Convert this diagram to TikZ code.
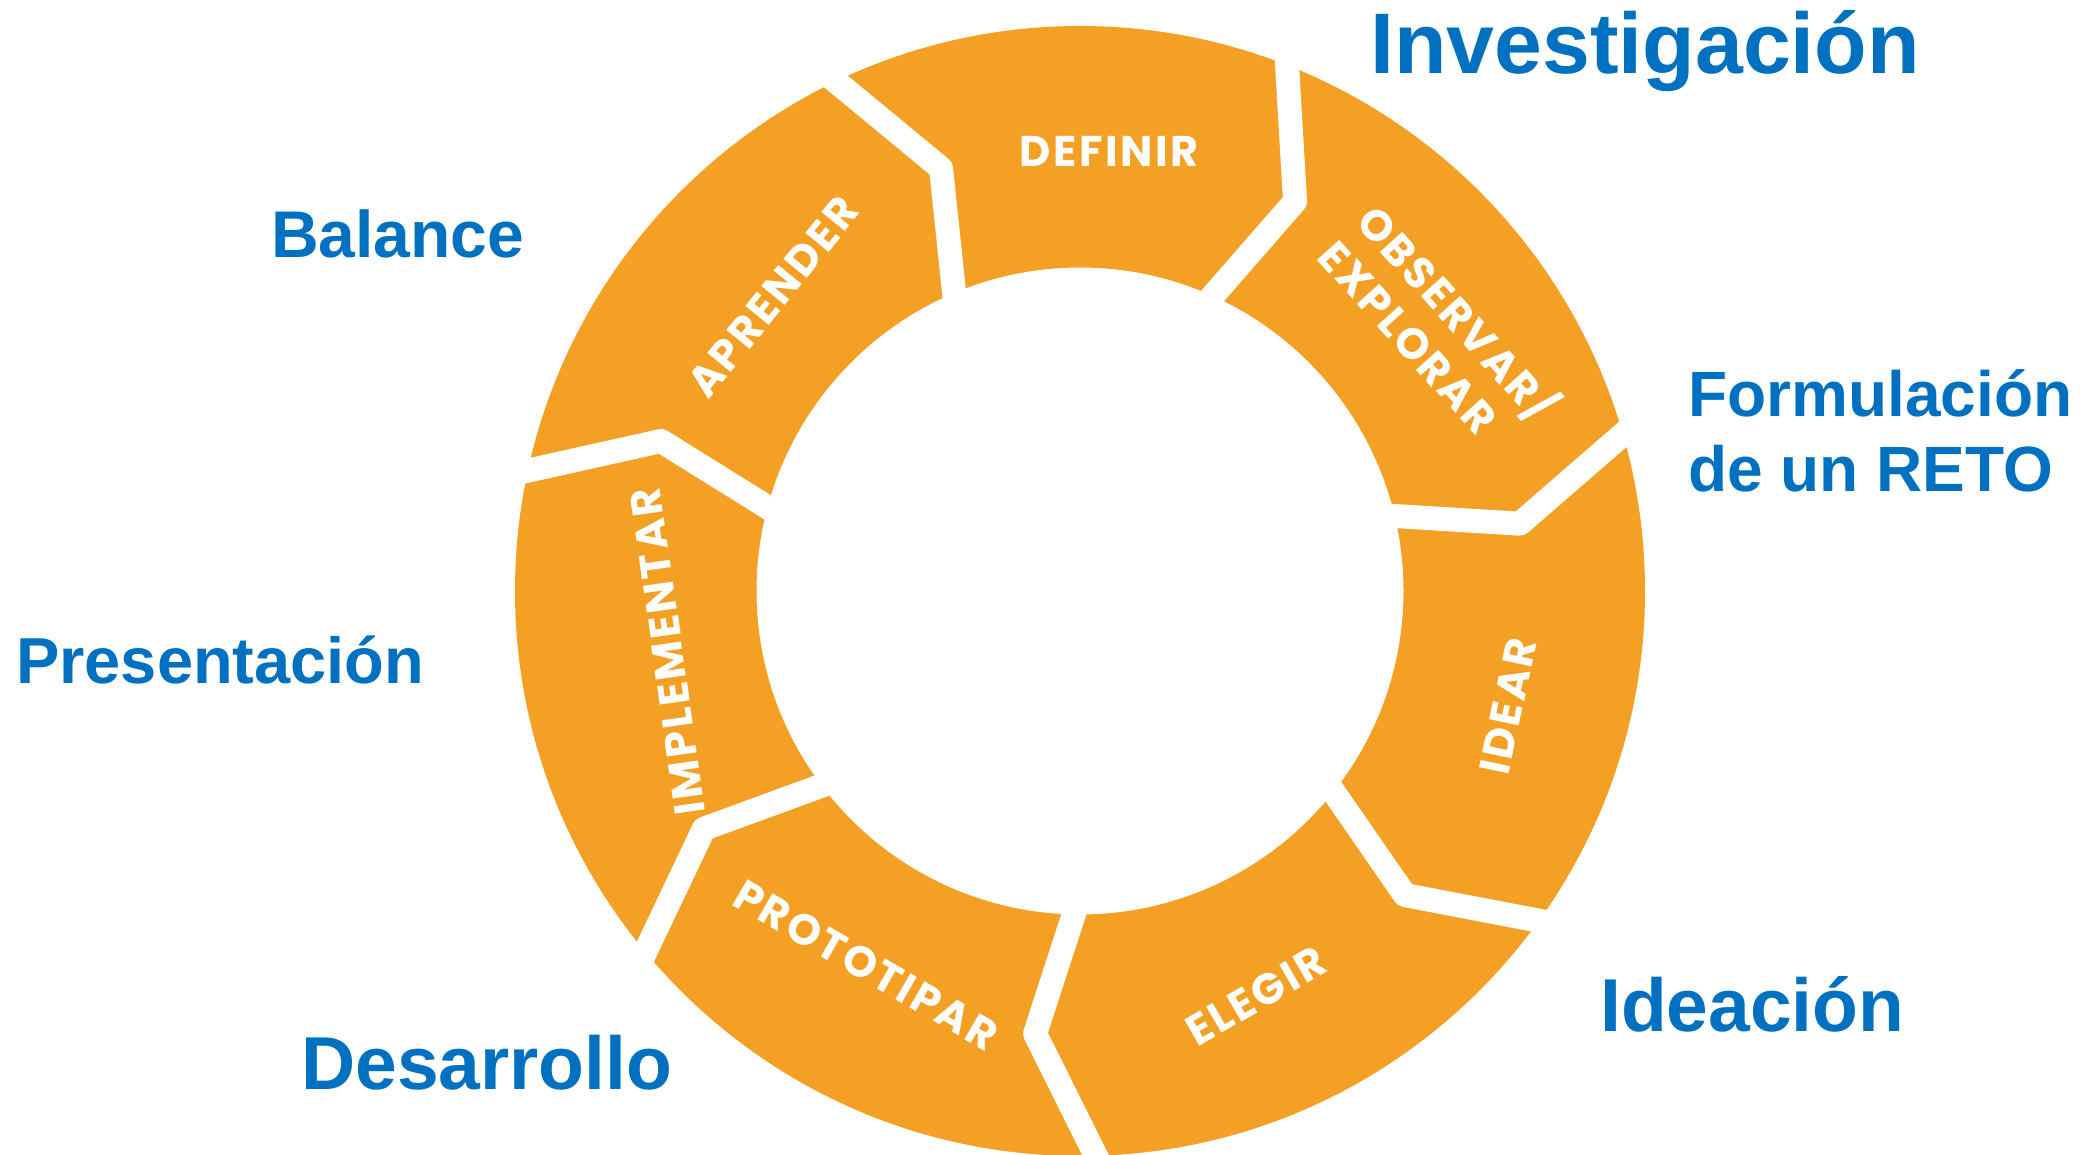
\documentclass[tikz,border=0pt]{standalone}
\usepackage{fontspec}
\setmainfont{Liberation Sans}
\newfontfamily\ringfont{Poppins}[LetterSpace=6]
\usetikzlibrary{calc}
\definecolor{ringorange}{HTML}{F4A024}
\definecolor{labelblue}{HTML}{0070C0}
\begin{document}
\begin{tikzpicture}[x=1pt,y=1pt,
  sep/.style={draw=white,line width=24pt,line join=round},
  stage/.style={text=white,font=\ringfont\bfseries\fontsize{43}{52}\selectfont,align=left,inner sep=0pt},
  phase/.style={text=labelblue,font=\bfseries\fontsize{#1}{#1}\selectfont,anchor=base west,inner sep=0pt}]
\useasboundingbox (0,0) rectangle (2096,1154);
\coordinate (C) at (1080,563);
\fill[ringorange,even odd rule] (C) circle[radius=565] (C) circle[radius=323.5];
\foreach \a [count=\i] in {68.5,16.1,-35.7,-88.4,-140.3,167.7,115.6} {
  \coordinate (O\i) at ($(C)+(\a:565)$);
  \coordinate (K\i) at ($(C)+({\a-7.4}:445)$);
  \coordinate (I\i) at ($(C)+({\a-2.7}:323.5)$);
  \draw[sep] ($(K\i)!1.3!(O\i)$) -- (K\i) -- ($(K\i)!1.3!(I\i)$);
}
\node[stage] (definir) at (1109,1003) {DEFINIR};
\node[stage,rotate=-48] (observar) at (1441,826) {OBSERVAR/\\EXPLORAR};
\node[stage,rotate=78] (idear) at (1508,448) {IDEAR};
\node[stage,rotate=30] (elegir) at (1256,158) {ELEGIR};
\node[stage,rotate=-30] (prototipar) at (866,189) {PROTOTIPAR};
\node[stage,rotate=98] (implementar) at (668,502) {IMPLEMENTAR};
\node[stage,rotate=51] (aprender) at (773,857) {APRENDER};
\node[phase=86] (inv) at (1370,1080) {Investigación};
\node[phase=66] (bal) at (271,896) {Balance};
\node[phase=64] (form1) at (1688,737) {Formulación};
\node[phase=64] (form2) at (1688,662) {de un RETO};
\node[phase=65] (pres) at (16,470) {Presentación};
\node[phase=75] (idea) at (1600,122) {Ideación};
\node[phase=75] (des) at (301,65) {Desarrollo};
\end{tikzpicture}
\end{document}
